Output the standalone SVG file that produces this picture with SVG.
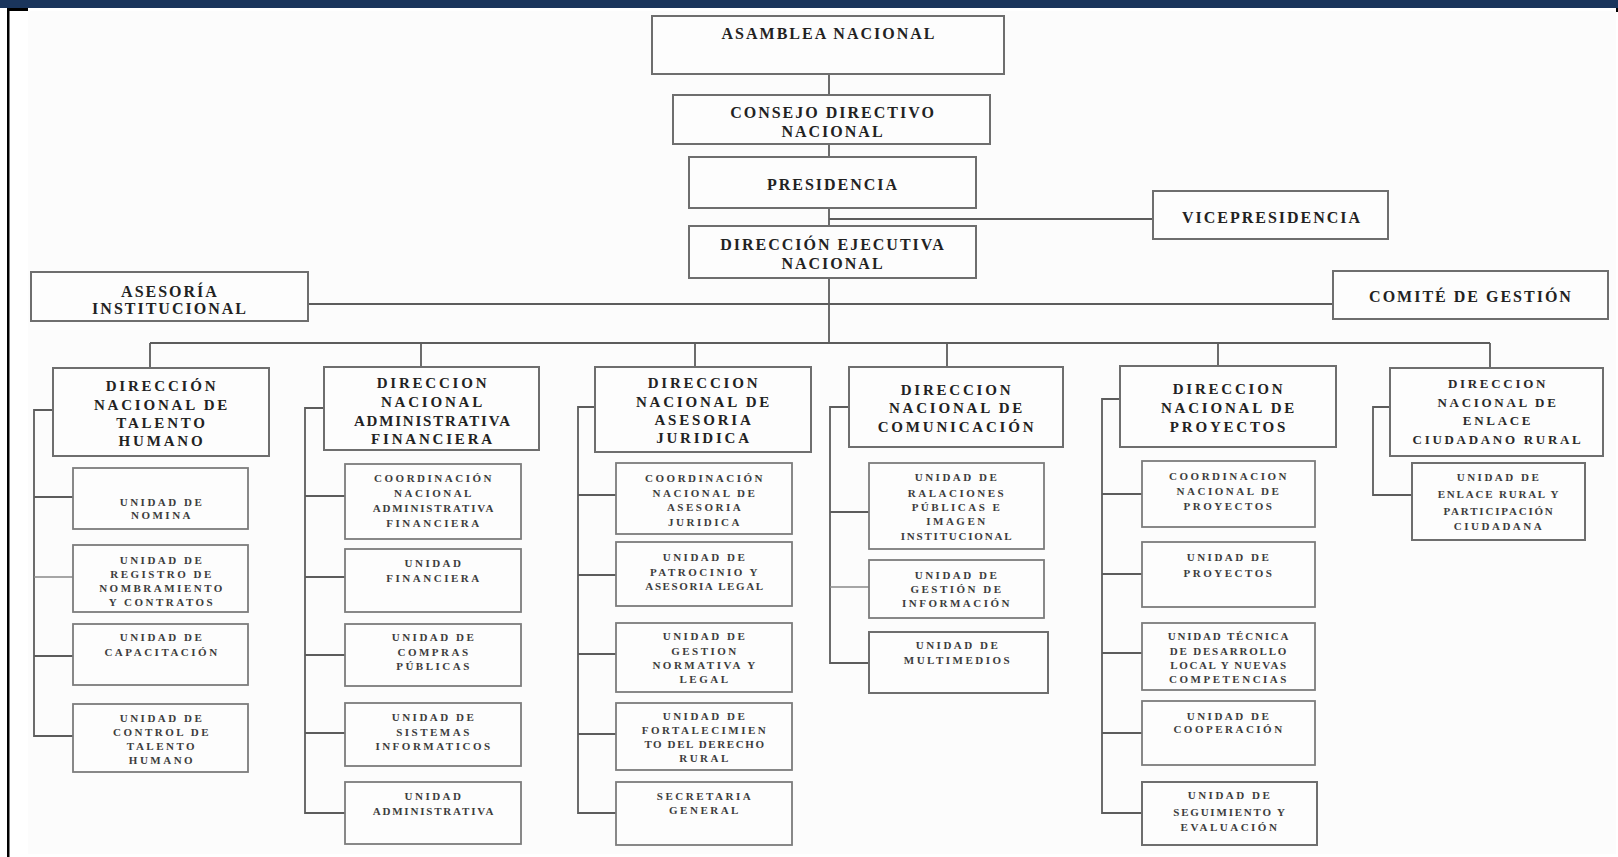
<svg xmlns="http://www.w3.org/2000/svg" width="1618" height="857" viewBox="0 0 1618 857">
<style>
.bg{fill:#fcfcfc}
.box{fill:#fdfdfd;stroke:#6e6e6e;stroke-width:2}
.sbox{fill:#fdfdfd;stroke:#7c7c7c;stroke-width:1.8}
.ln{fill:none;stroke:#5c5c5c;stroke-width:1.8}
.lnl{fill:none;stroke:#8a8a8a;stroke-width:1.5}
text{font-family:"Liberation Serif","Times New Roman",serif;font-weight:bold;text-anchor:middle}
.t1{font-size:16px;letter-spacing:2px;fill:#222}
.t2{font-size:15px;letter-spacing:2.8px;fill:#222}
.t2s{font-size:13px;letter-spacing:2.7px;fill:#2a2a2a}
.t3{font-size:11px;letter-spacing:2.5px;fill:#3c3c3c}
</style>
<rect x="0" y="0" width="1618" height="857" fill="#ffffff"/>
<rect class="bg" x="28" y="11" width="1588" height="843"/>
<rect x="0" y="0" width="1618" height="8" fill="#1a355c"/>
<rect x="7" y="8" width="2.5" height="849" fill="#000"/>
<rect x="7" y="8" width="21" height="3" fill="#000"/>
<rect x="1616" y="8" width="2" height="4" fill="#000"/>

<g id="connectors">
  <path class="ln" d="M829,74 V343"/>
  <path class="ln" d="M829,219 H1153"/>
  <path class="ln" d="M308,304 H1333"/>
  <path class="ln" d="M150,343 H1490"/>
  <path class="ln" d="M150,343 V368 M421,343 V367 M695,343 V367 M947,343 V367 M1218,343 V366 M1490,343 V368"/>
  <path class="ln" d="M53,410 H34 V736 H73 M34,497 H73 M34,656 H73"/>
  <path class="lnl" d="M34,577 H73"/>
  <path class="ln" d="M324,408 H305 V813 H345 M305,496 H345 M305,577 H345 M305,655 H345 M305,733 H345"/>
  <path class="ln" d="M595,407 H578 V813 H616 M578,495 H616 M578,575 H616 M578,654 H616 M578,734 H616"/>
  <path class="ln" d="M849,407 H830 V663 H869 M830,512 H869"/>
  <path class="lnl" d="M830,587 H869"/>
  <path class="ln" d="M1120,399 H1102 V813 H1142 M1102,494 H1142 M1102,574 H1142 M1102,653 H1142 M1102,733 H1142"/>
  <path class="ln" d="M1390,407 H1373 V495 H1412"/>
</g>

<g id="n-asamblea"><rect class="box" x="652" y="16" width="352" height="58"/><text class="t1" x="829" y="39">ASAMBLEA NACIONAL</text></g>
<g id="n-consejo"><rect class="box" x="673" y="95" width="317" height="49"/><text class="t1"><tspan x="833" y="118">CONSEJO DIRECTIVO</tspan><tspan x="833" y="137">NACIONAL</tspan></text></g>
<g id="n-presidencia"><rect class="box" x="689" y="157" width="287" height="51"/><text class="t1" x="833" y="190">PRESIDENCIA</text></g>
<g id="n-vicepresidencia"><rect class="box" x="1153" y="191" width="235" height="48"/><text class="t1" x="1272" y="223">VICEPRESIDENCIA</text></g>
<g id="n-direccion-ejecutiva"><rect class="box" x="689" y="226" width="287" height="52"/><text class="t1"><tspan x="833" y="250">DIRECCIÓN EJECUTIVA</tspan><tspan x="833" y="269">NACIONAL</tspan></text></g>
<g id="n-asesoria"><rect class="box" x="31" y="272" width="277" height="49"/><text class="t1"><tspan x="170" y="297">ASESORÍA</tspan><tspan x="170" y="314">INSTITUCIONAL</tspan></text></g>
<g id="n-comite"><rect class="box" x="1333" y="271" width="275" height="48"/><text class="t1" x="1471" y="302">COMITÉ DE GESTIÓN</text></g>

<g id="d-talento"><rect class="box" x="53" y="368" width="216" height="88"/><text class="t2"><tspan x="162" y="391">DIRECCIÓN</tspan><tspan x="162" y="410">NACIONAL DE</tspan><tspan x="162" y="428">TALENTO</tspan><tspan x="162" y="446">HUMANO</tspan></text></g>
<g id="d-administrativa"><rect class="box" x="324" y="367" width="215" height="83"/><text class="t2"><tspan x="433" y="388">DIRECCION</tspan><tspan x="433" y="407">NACIONAL</tspan><tspan x="433" y="426" style="letter-spacing:1.8px">ADMINISTRATIVA</tspan><tspan x="433" y="444">FINANCIERA</tspan></text></g>
<g id="d-juridica"><rect class="box" x="595" y="367" width="216" height="85"/><text class="t2"><tspan x="704" y="388">DIRECCION</tspan><tspan x="704" y="407">NACIONAL DE</tspan><tspan x="704" y="425">ASESORIA</tspan><tspan x="704" y="443">JURIDICA</tspan></text></g>
<g id="d-comunicacion"><rect class="box" x="849" y="367" width="214" height="80"/><text class="t2"><tspan x="957" y="395">DIRECCION</tspan><tspan x="957" y="413">NACIONAL DE</tspan><tspan x="957" y="432">COMUNICACIÓN</tspan></text></g>
<g id="d-proyectos"><rect class="box" x="1120" y="366" width="216" height="81"/><text class="t2"><tspan x="1229" y="394">DIRECCION</tspan><tspan x="1229" y="413">NACIONAL DE</tspan><tspan x="1229" y="432">PROYECTOS</tspan></text></g>
<g id="d-enlace"><rect class="box" x="1390" y="368" width="213" height="88"/><text class="t2s"><tspan x="1498" y="388">DIRECCION</tspan><tspan x="1498" y="407">NACIONAL DE</tspan><tspan x="1498" y="425">ENLACE</tspan><tspan x="1498" y="444">CIUDADANO RURAL</tspan></text></g>

<g id="u-nomina"><rect class="sbox" x="73" y="468" width="175" height="61"/><text class="t3"><tspan x="162" y="506">UNIDAD DE</tspan><tspan x="162" y="519">NOMINA</tspan></text></g>
<g id="u-registro"><rect class="sbox" x="73" y="545" width="175" height="67"/><text class="t3"><tspan x="162" y="564">UNIDAD DE</tspan><tspan x="162" y="578">REGISTRO DE</tspan><tspan x="162" y="592">NOMBRAMIENTO</tspan><tspan x="162" y="606">Y CONTRATOS</tspan></text></g>
<g id="u-capacitacion"><rect class="sbox" x="73" y="624" width="175" height="61"/><text class="t3"><tspan x="162" y="641">UNIDAD DE</tspan><tspan x="162" y="656">CAPACITACIÓN</tspan></text></g>
<g id="u-control"><rect class="sbox" x="73" y="704" width="175" height="68"/><text class="t3"><tspan x="162" y="722">UNIDAD DE</tspan><tspan x="162" y="736">CONTROL DE</tspan><tspan x="162" y="750">TALENTO</tspan><tspan x="162" y="764">HUMANO</tspan></text></g>

<g id="u-coord-admin"><rect class="sbox" x="345" y="464" width="176" height="75"/><text class="t3"><tspan x="434" y="482">COORDINACIÓN</tspan><tspan x="434" y="497">NACIONAL</tspan><tspan x="434" y="512" style="letter-spacing:1.8px">ADMINISTRATIVA</tspan><tspan x="434" y="527">FINANCIERA</tspan></text></g>
<g id="u-financiera"><rect class="sbox" x="345" y="549" width="176" height="63"/><text class="t3"><tspan x="434" y="567">UNIDAD</tspan><tspan x="434" y="582">FINANCIERA</tspan></text></g>
<g id="u-compras"><rect class="sbox" x="345" y="624" width="176" height="62"/><text class="t3"><tspan x="434" y="641">UNIDAD DE</tspan><tspan x="434" y="656">COMPRAS</tspan><tspan x="434" y="670">PÚBLICAS</tspan></text></g>
<g id="u-sistemas"><rect class="sbox" x="345" y="703" width="176" height="63"/><text class="t3"><tspan x="434" y="721">UNIDAD DE</tspan><tspan x="434" y="736">SISTEMAS</tspan><tspan x="434" y="750">INFORMATICOS</tspan></text></g>
<g id="u-administrativa"><rect class="sbox" x="345" y="782" width="176" height="62"/><text class="t3"><tspan x="434" y="800">UNIDAD</tspan><tspan x="434" y="815" style="letter-spacing:1.8px">ADMINISTRATIVA</tspan></text></g>

<g id="u-coord-juridica"><rect class="sbox" x="616" y="463" width="176" height="71"/><text class="t3"><tspan x="705" y="482">COORDINACIÓN</tspan><tspan x="705" y="497">NACIONAL DE</tspan><tspan x="705" y="511">ASESORIA</tspan><tspan x="705" y="526">JURIDICA</tspan></text></g>
<g id="u-patrocinio"><rect class="sbox" x="616" y="542" width="176" height="64"/><text class="t3"><tspan x="705" y="561">UNIDAD DE</tspan><tspan x="705" y="576">PATROCINIO Y</tspan><tspan x="705" y="590" style="letter-spacing:1.6px">ASESORIA LEGAL</tspan></text></g>
<g id="u-normativa"><rect class="sbox" x="616" y="623" width="176" height="69"/><text class="t3"><tspan x="705" y="640">UNIDAD DE</tspan><tspan x="705" y="655">GESTION</tspan><tspan x="705" y="669">NORMATIVA Y</tspan><tspan x="705" y="683">LEGAL</tspan></text></g>
<g id="u-fortalecimiento"><rect class="sbox" x="616" y="703" width="176" height="67"/><text class="t3"><tspan x="705" y="720">UNIDAD DE</tspan><tspan x="705" y="734">FORTALECIMIEN</tspan><tspan x="705" y="748" style="letter-spacing:1.6px">TO DEL DERECHO</tspan><tspan x="705" y="762">RURAL</tspan></text></g>
<g id="u-secretaria"><rect class="sbox" x="616" y="782" width="176" height="63"/><text class="t3"><tspan x="705" y="800">SECRETARIA</tspan><tspan x="705" y="814">GENERAL</tspan></text></g>

<g id="u-relaciones"><rect class="sbox" x="869" y="463" width="175" height="86"/><text class="t3"><tspan x="957" y="481">UNIDAD DE</tspan><tspan x="957" y="497">RALACIONES</tspan><tspan x="957" y="511">PÚBLICAS E</tspan><tspan x="957" y="525">IMAGEN</tspan><tspan x="957" y="540" style="letter-spacing:1.8px">INSTITUCIONAL</tspan></text></g>
<g id="u-gestion-info"><rect class="sbox" x="869" y="560" width="175" height="58"/><text class="t3"><tspan x="957" y="579">UNIDAD DE</tspan><tspan x="957" y="593">GESTIÓN DE</tspan><tspan x="957" y="607">INFORMACIÓN</tspan></text></g>
<g id="u-multimedios"><rect class="box" x="869" y="632" width="179" height="61"/><text class="t3"><tspan x="958" y="649">UNIDAD DE</tspan><tspan x="958" y="664">MULTIMEDIOS</tspan></text></g>

<g id="u-coord-proyectos"><rect class="sbox" x="1142" y="461" width="173" height="66"/><text class="t3"><tspan x="1229" y="480">COORDINACION</tspan><tspan x="1229" y="495">NACIONAL DE</tspan><tspan x="1229" y="510">PROYECTOS</tspan></text></g>
<g id="u-proyectos"><rect class="sbox" x="1142" y="542" width="173" height="65"/><text class="t3"><tspan x="1229" y="561">UNIDAD DE</tspan><tspan x="1229" y="577">PROYECTOS</tspan></text></g>
<g id="u-tecnica"><rect class="sbox" x="1142" y="623" width="173" height="67"/><text class="t3"><tspan x="1229" y="640" style="letter-spacing:1.8px">UNIDAD TÉCNICA</tspan><tspan x="1229" y="655" style="letter-spacing:1.8px">DE DESARROLLO</tspan><tspan x="1229" y="669" style="letter-spacing:1.6px">LOCAL Y NUEVAS</tspan><tspan x="1229" y="683">COMPETENCIAS</tspan></text></g>
<g id="u-cooperacion"><rect class="sbox" x="1142" y="701" width="173" height="64"/><text class="t3"><tspan x="1229" y="720">UNIDAD DE</tspan><tspan x="1229" y="733">COOPERACIÓN</tspan></text></g>
<g id="u-seguimiento"><rect class="box" x="1142" y="782" width="175" height="63"/><text class="t3"><tspan x="1230" y="799">UNIDAD DE</tspan><tspan x="1230" y="816" style="letter-spacing:1.8px">SEGUIMIENTO Y</tspan><tspan x="1230" y="831">EVALUACIÓN</tspan></text></g>

<g id="u-enlace"><rect class="box" x="1412" y="463" width="173" height="77"/><text class="t3"><tspan x="1499" y="481">UNIDAD DE</tspan><tspan x="1499" y="498" style="letter-spacing:1.8px">ENLACE RURAL Y</tspan><tspan x="1499" y="515" style="letter-spacing:1.8px">PARTICIPACIÓN</tspan><tspan x="1499" y="530">CIUDADANA</tspan></text></g>
</svg>
